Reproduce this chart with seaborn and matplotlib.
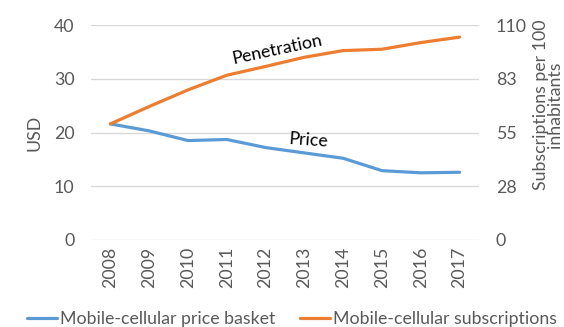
import numpy as np
import pandas as pd
import matplotlib
matplotlib.use("Agg")
import matplotlib.pyplot as plt
import seaborn as sns
from matplotlib.ticker import FixedLocator, FuncFormatter
from matplotlib.lines import Line2D

# Mobile-cellular price basket (USD) and subscriptions per 100 inhabitants
years = ["2008", "2009", "2010", "2011", "2012", "2013", "2014", "2015", "2016", "2017"]
price_usd = [21.6, 20.3, 18.5, 18.7, 17.2, 16.2, 15.2, 12.9, 12.5, 12.6]
subscriptions = [59.4, 68.3, 76.8, 84.3, 88.8, 93.5, 96.9, 97.6, 101.0, 103.8]

left_ticks = [0, 10, 20, 30, 40]
right_ticks = [0, 27.5, 55, 82.5, 110]

price_label = "Mobile-cellular price basket"
subs_label = "Mobile-cellular subscriptions"

BLUE = "#5B9BD5"
ORANGE = "#ED7D31"
GREY = "#595959"
GRID = "#D9D9D9"

sns.set_theme(style="white")
plt.rcParams["font.family"] = ["Lato", "DejaVu Sans"]

df = pd.DataFrame({"year": years, "price": price_usd, "subs": subscriptions})

fig = plt.figure(figsize=(5.64, 3.27), dpi=100)
ax = fig.add_axes([91 / 564, 1 - 240 / 327, 388 / 564, 215 / 327])
ax2 = ax.twinx()

sns.lineplot(data=df, x="year", y="price", ax=ax, color=BLUE, lw=2.3,
             sort=False, legend=False)
sns.lineplot(data=df, x="year", y="subs", ax=ax2, color=ORANGE, lw=2.3,
             sort=False, legend=False)

ax.set_xlim(-0.5, len(years) - 0.5)
ax.set_ylim(0, 40)
ax2.set_ylim(0, 110)

ax.yaxis.set_major_locator(FixedLocator(left_ticks))
ax2.yaxis.set_major_locator(FixedLocator(right_ticks))
ax2.yaxis.set_major_formatter(FuncFormatter(lambda v, p: f"{int(np.floor(v + 0.5))}"))

ax.grid(axis="y", color=GRID, lw=1.0)
ax.grid(axis="x", visible=False)
ax2.grid(False)
ax.set_axisbelow(True)

for a in (ax, ax2):
    for s in a.spines.values():
        s.set_visible(False)

fs = 12.8
ax.tick_params(axis="y", length=0, pad=12, labelsize=fs, labelcolor=GREY)
ax2.tick_params(axis="y", length=0, pad=12, labelsize=fs, labelcolor=GREY)
ax.tick_params(axis="x", length=0, pad=5, labelsize=fs, labelcolor=GREY,
               labelrotation=90)

ax.set_xlabel("")
ax.set_ylabel("USD", fontsize=fs, color=GREY, labelpad=8)
ax2.set_ylabel("")
fig.text(548 / 564, 1 - 105 / 327, "Subscriptions per 100\ninhabitants",
         rotation=90, ha="center", va="center", multialignment="center",
         fontsize=fs, color=GREY, linespacing=0.92)

ax.text(0.479, 0.884, "Penetration", transform=ax.transAxes, rotation=12,
        ha="center", va="center", fontsize=fs, color="black")
ax.text(0.559, 0.465, "Price", transform=ax.transAxes, rotation=-4,
        ha="center", va="center", fontsize=fs, color="black")

handles = [Line2D([], [], color=BLUE, lw=2.3), Line2D([], [], color=ORANGE, lw=2.3)]
fig.legend(handles, [price_label, subs_label], loc="center",
           bbox_to_anchor=(292 / 564, 1 - 319 / 327), ncol=2, frameon=False,
           fontsize=fs, labelcolor=GREY, handlelength=1.7, handletextpad=0.15,
           columnspacing=1.4, borderaxespad=0)

fig.savefig("out.png", dpi=100)
